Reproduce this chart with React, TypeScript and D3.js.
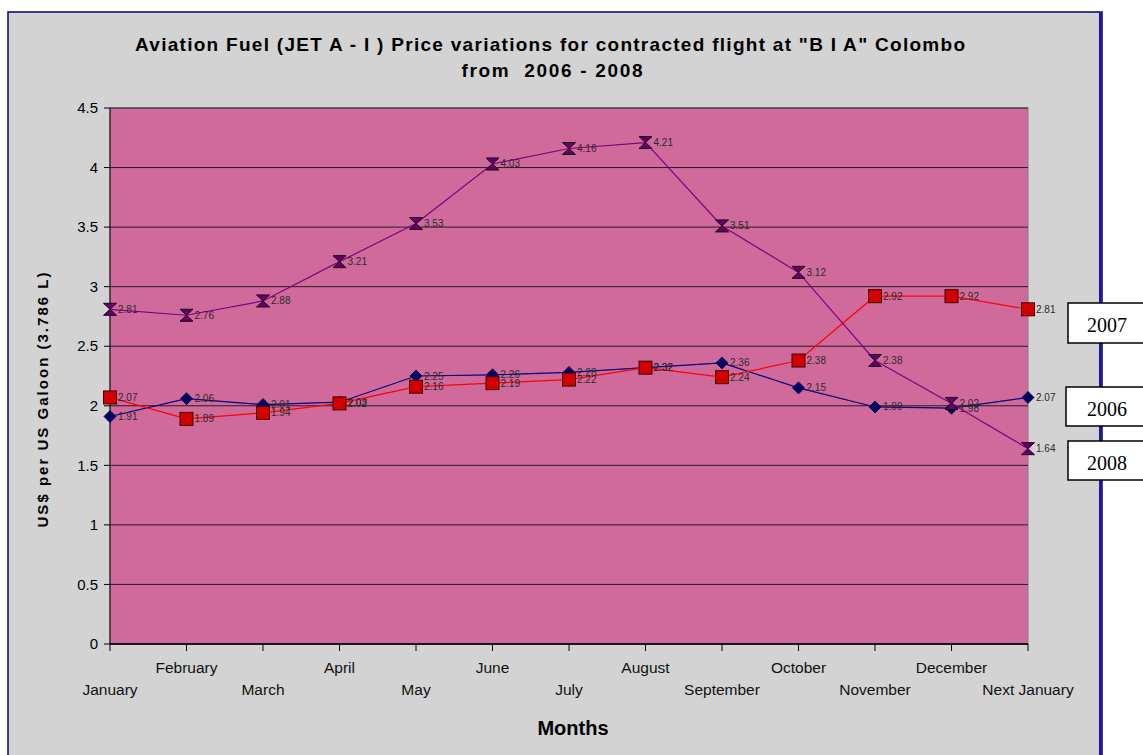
import { scaleLinear, scalePoint, line } from "d3";

const months = [
  "January", "February", "March", "April", "May", "June", "July",
  "August", "September", "October", "November", "December", "Next January",
];
const prices2006 = [1.91, 2.06, 2.01, 2.03, 2.25, 2.26, 2.28, 2.32, 2.36, 2.15, 1.99, 1.98, 2.07];
const prices2007 = [2.07, 1.89, 1.94, 2.02, 2.16, 2.19, 2.22, 2.32, 2.24, 2.38, 2.92, 2.92, 2.81];
const prices2008 = [2.81, 2.76, 2.88, 3.21, 3.53, 4.03, 4.16, 4.21, 3.51, 3.12, 2.38, 2.02, 1.64];
const yTicks = [0, 0.5, 1, 1.5, 2, 2.5, 3, 3.5, 4, 4.5];

const W = 1143;
const H = 755;
const plot = { left: 110, top: 108, right: 1028, bottom: 644 };
const font = "Arial, 'Liberation Sans', sans-serif";

function Marker({ kind, x, y }: { kind: string; x: number; y: number }) {
  if (kind === "diamond") {
    return <path d={`M${x},${y - 6}L${x + 6},${y}L${x},${y + 6}L${x - 6},${y}Z`} fill="#000066" stroke="#000033" strokeWidth={0.8} />;
  }
  if (kind === "square") {
    return <rect x={x - 6.5} y={y - 6.5} width={13} height={13} fill="#D40000" stroke="#3a0000" strokeWidth={1} />;
  }
  return (
    <path
      d={`M${x - 6.5},${y - 6}L${x + 6.5},${y - 6}L${x - 6.5},${y + 6}L${x + 6.5},${y + 6}Z`}
      fill="#660066"
      stroke="#1a001a"
      strokeWidth={1}
    />
  );
}

export default function App() {
  const x = scalePoint<string>().domain(months).range([plot.left, plot.right]);
  const y = scaleLinear().domain([0, 4.5]).range([plot.bottom, plot.top]);

  const series = [
    { name: "2006", values: prices2006, color: "#000080", marker: "diamond" },
    { name: "2007", values: prices2007, color: "#FF0000", marker: "square" },
    { name: "2008", values: prices2008, color: "#800080", marker: "hourglass" },
  ];

  const path = line<number>()
    .x((_, i) => x(months[i])!)
    .y((d) => y(d));

  const legend = [
    { label: "2007", x: 1068, y: 303, h: 40 },
    { label: "2006", x: 1066, y: 387, h: 39 },
    { label: "2008", x: 1068, y: 441, h: 39 },
  ];

  return (
    <div style={{ position: "absolute", left: 0, top: 0 }}>
      <svg width={W} height={H} style={{ display: "block", background: "#fff" }}>
        {/* chart frame */}
        <rect x={8} y={12} width={1094} height={750} fill="#D3D3D3" stroke="#000080" strokeWidth={1.5} />
        <line x1={1100.5} y1={13} x2={1100.5} y2={H} stroke="#1a1aa0" strokeWidth={3} />

        {/* title */}
        <text x={550} y={51} textAnchor="middle" fontFamily={font} fontWeight="bold" fontSize={19} fill="#000" textLength={830} lengthAdjust="spacing">
          Aviation Fuel (JET A - I ) Price variations for contracted flight at "B I A" Colombo
        </text>
        <text x={552} y={77} textAnchor="middle" fontFamily={font} fontWeight="bold" fontSize={19} fill="#000" textLength={181} lengthAdjust="spacing" style={{ whiteSpace: "pre" }}>
          {"from  2006 - 2008"}
        </text>

        {/* plot area */}
        <rect x={plot.left} y={plot.top} width={plot.right - plot.left} height={plot.bottom - plot.top} fill="#D06A9A" stroke="#808080" strokeWidth={1} />
        {yTicks.map((t) => (
          <g key={t}>
            <line x1={plot.left} x2={plot.right} y1={y(t)} y2={y(t)} stroke="#2a1a22" strokeWidth={1} />
            <line x1={plot.left - 6} x2={plot.left} y1={y(t)} y2={y(t)} stroke="#000" strokeWidth={1} />
            <text x={plot.left - 12} y={y(t)} dy="0.35em" textAnchor="end" fontFamily={font} fontSize={15} fill="#000">
              {t}
            </text>
          </g>
        ))}
        <line x1={plot.left} x2={plot.left} y1={plot.top} y2={plot.bottom} stroke="#000" strokeWidth={1} />
        <line x1={plot.left} x2={plot.right} y1={plot.bottom} y2={plot.bottom} stroke="#000" strokeWidth={1.5} />

        {/* x axis */}
        {months.map((m, i) => (
          <g key={m}>
            <line x1={x(m)} x2={x(m)} y1={plot.bottom} y2={plot.bottom + 7} stroke="#000" strokeWidth={1} />
            <text x={x(m)} y={i % 2 === 0 ? 695 : 673} textAnchor="middle" fontFamily={font} fontSize={15.5} fill="#111">
              {m}
            </text>
          </g>
        ))}

        {/* axis titles */}
        <text x={573} y={735} textAnchor="middle" fontFamily={font} fontWeight="bold" fontSize={20} fill="#000">
          Months
        </text>
        <text
          transform={`translate(48,400) rotate(-90)`}
          textAnchor="middle"
          fontFamily={font}
          fontWeight="bold"
          fontSize={15}
          fill="#000"
          textLength={255}
          lengthAdjust="spacing"
        >
          US$ per US Galoon (3.786 L)
        </text>

        {/* series */}
        {series.map((s) => (
          <g key={s.name}>
            <path d={path(s.values)!} fill="none" stroke={s.color} strokeWidth={1.2} />
            {s.values.map((v, i) => (
              <g key={i}>
                <Marker kind={s.marker} x={x(months[i])!} y={y(v)} />
                <text x={x(months[i])! + 8} y={y(v)} dy="0.35em" fontFamily={font} fontSize={10} fill="#2a2a2a">
                  {v.toFixed(2)}
                </text>
              </g>
            ))}
          </g>
        ))}

        {/* legend labels */}
        {legend.map((l) => (
          <g key={l.label}>
            <rect x={l.x} y={l.y} width={W - l.x + 5} height={l.h} fill="#fff" stroke="#000" strokeWidth={1.5} />
            <text x={1107} y={l.y + l.h / 2 + 9} textAnchor="middle" fontFamily="'Liberation Serif', 'Times New Roman', serif" fontSize={20} fill="#000">
              {l.label}
            </text>
          </g>
        ))}
      </svg>
    </div>
  );
}
